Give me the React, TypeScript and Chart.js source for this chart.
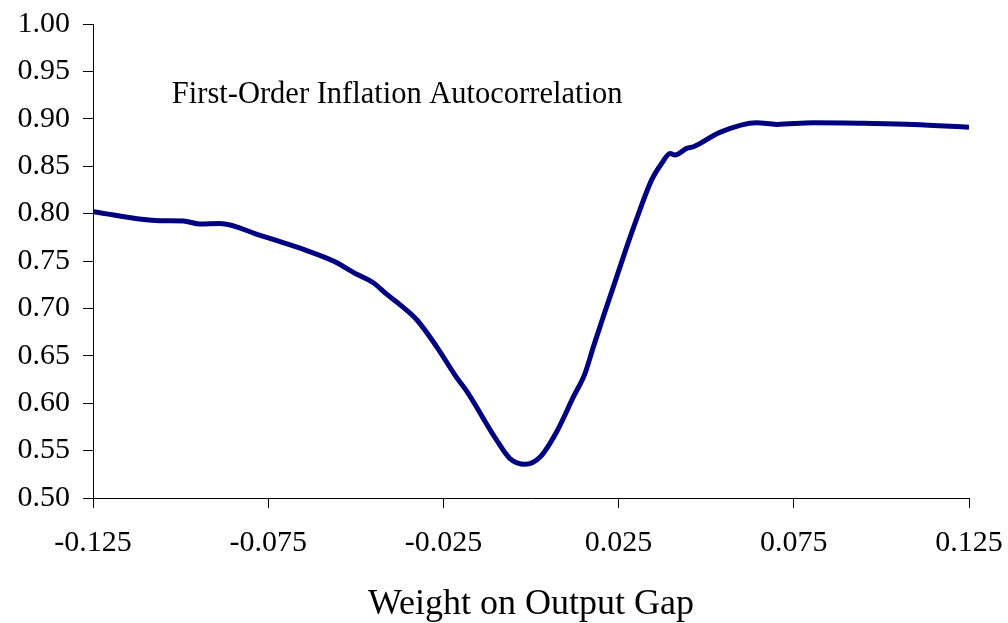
import React, { useEffect, useRef } from "react";
import { Chart, registerables } from "chart.js";

Chart.register(...registerables);

const xValues: number[] = [
  -0.125, -0.1059, -0.0992, -0.0945, -0.0888, -0.0773, -0.064, -0.0564, -0.0497, -0.045,
  -0.0412, -0.0374, -0.0326, -0.027, -0.0212, -0.0184, -0.0098, -0.006, -0.0017, 0.0026,
  0.0073, 0.0121, 0.0154, 0.0178, 0.0206, 0.0235, 0.027, 0.0302, 0.0344, 0.0373,
  0.0397, 0.0411, 0.0444, 0.0464, 0.0539, 0.0644, 0.0701, 0.0805, 0.0948, 0.1091, 0.125,
];
const autocorr: number[] = [
  0.802, 0.7925, 0.7922, 0.789, 0.7896, 0.777, 0.761, 0.75, 0.736, 0.727,
  0.715, 0.704, 0.688, 0.66, 0.627, 0.613, 0.561, 0.5416, 0.5355, 0.5433,
  0.5697, 0.6066, 0.6313, 0.6594, 0.691, 0.7227, 0.7615, 0.795, 0.8353, 0.853,
  0.8635, 0.8617, 0.8688, 0.8705, 0.8857, 0.8958, 0.8941, 0.8958, 0.8952, 0.8941, 0.891,
];
const xTickValues: number[] = [-0.125, -0.075, -0.025, 0.025, 0.075, 0.125];
const seriesLabel = "First-Order Inflation Autocorrelation";
const xAxisTitle = "Weight on Output Gap";

const FONT = "'Liberation Serif', 'Times New Roman', serif";

function clearPadding(scale: any) {
  scale.paddingTop = 0;
  scale.paddingBottom = 0;
  scale.paddingLeft = 0;
  scale.paddingRight = 0;
}

export default function App() {
  const ref = useRef<HTMLCanvasElement | null>(null);

  useEffect(() => {
    document.body.style.margin = "0";
    const canvas = ref.current;
    if (!canvas) return;

    const labelPlugin = {
      id: "seriesLabel",
      afterDraw(chart: any) {
        const { ctx, scales } = chart;
        const px = scales.x.getPixelForValue(-0.1025);
        const py = scales.y.getPixelForValue(0.925);
        ctx.save();
        ctx.font = `30.5px ${FONT}`;
        ctx.fillStyle = "#000";
        ctx.textBaseline = "middle";
        ctx.textAlign = "left";
        ctx.fillText(seriesLabel, px, py);
        ctx.restore();
      },
    };

    const chart = new Chart(canvas, {
      type: "line",
      data: {
        datasets: [
          {
            label: seriesLabel,
            data: xValues.map((x, i) => ({ x, y: autocorr[i] })),
            borderColor: "#000080",
            backgroundColor: "#000080",
            borderWidth: 5,
            pointRadius: 0,
            cubicInterpolationMode: "monotone",
            fill: false,
          },
        ],
      },
      options: {
        responsive: false,
        animation: false,
        layout: { padding: { top: 24, right: 39, left: 0, bottom: 0 } },
        plugins: {
          legend: { display: false },
          tooltip: { enabled: false },
        },
        scales: {
          x: {
            type: "linear",
            min: -0.125,
            max: 0.125,
            afterBuildTicks: (scale: any) => {
              scale.ticks = xTickValues.map((v) => ({ value: v }));
            },
            afterFit: (scale: any) => {
              scale.height = 125;
              clearPadding(scale);
            },
            ticks: {
              color: "#000",
              font: { family: FONT, size: 30 },
              padding: 17,
              maxRotation: 0,
              autoSkip: false,
              callback: (v: any) => Number(v).toFixed(3),
            },
            grid: {
              drawOnChartArea: false,
              drawTicks: true,
              tickLength: 10,
              color: "#000",
            },
            border: { display: true, color: "#000", width: 1 },
            title: {
              display: true,
              text: xAxisTitle,
              color: "#000",
              font: { family: FONT, size: 36 },
              padding: { top: 0, bottom: -3 },
            },
          },
          y: {
            type: "linear",
            min: 0.5,
            max: 1.0,
            afterFit: (scale: any) => {
              scale.width = 93;
              clearPadding(scale);
            },
            ticks: {
              stepSize: 0.05,
              color: "#000",
              font: { family: FONT, size: 30 },
              padding: 13,
              callback: (v: any) => Number(v).toFixed(2),
            },
            grid: {
              drawOnChartArea: false,
              drawTicks: true,
              tickLength: 10,
              color: "#000",
            },
            border: { display: true, color: "#000", width: 1 },
          },
        },
      },
      plugins: [labelPlugin],
    });

    return () => chart.destroy();
  }, []);

  return (
    <div style={{ position: "absolute", left: 0, top: 0, width: 1008, height: 623 }}>
      <canvas ref={ref} width={1008} height={623} />
    </div>
  );
}
